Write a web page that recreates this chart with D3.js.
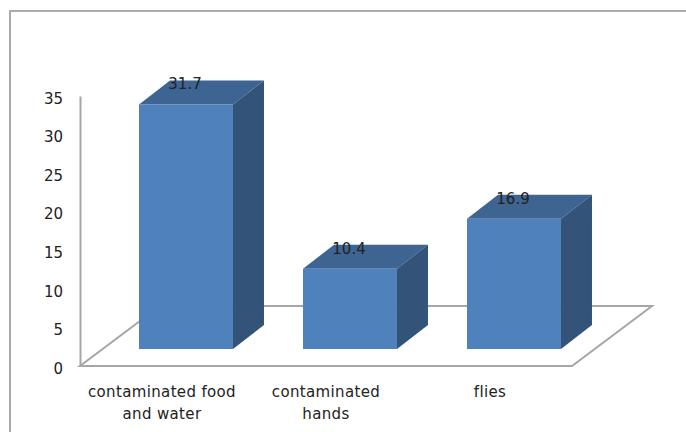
<!DOCTYPE html>
<html lang="en">
<head>
  <meta charset="UTF-8">
  <title>Transmission routes</title>
  <script src="https://d3js.org/d3.v7.min.js"></script>
  <style>
    body { margin: 0; background: #fff; }
    svg { display: block; }
    text { font-family: "DejaVu Sans", sans-serif; fill: #222; }
    .axis text { font-size: 15px; font-family: "DejaVu Sans", sans-serif; }
    .axis .domain { stroke: #a6a6a6; stroke-width: 2px; }
    .axis line { display: none; }
  </style>
</head>
<body>
  <div id="chart"></div>
  <script>
    const categories = [["contaminated food", "and water"], ["contaminated", "hands"], ["flies"]];
    const values = [31.7, 10.4, 16.9];
    const yTicks = [0, 5, 10, 15, 20, 25, 30, 35];

    const width = 686, height = 432;
    const svg = d3.select("#chart").append("svg").attr("width", width).attr("height", height);

    // picture frame, runs off the right and bottom edges
    svg.append("path")
      .attr("d", "M10,432V11H686")
      .attr("fill", "none").attr("stroke", "#aaa").attr("stroke-width", 2);

    const x = d3.scaleBand().domain(d3.range(values.length)).range([80, 572]);
    const y = d3.scaleLinear().domain([0, 35]).range([366, 96]);

    // 3d offsets
    const floorDx = 80, floorDy = -60;
    const barInsetX = 24, barInsetY = -17;
    const depthX = 31, depthY = -24;
    const barW = x.bandwidth() * 0.573;

    svg.append("polygon")
      .attr("points", [[80, y(0)], [572, y(0)], [572 + floorDx, y(0) + floorDy], [80 + floorDx, y(0) + floorDy]].join(" "))
      .attr("fill", "#fff").attr("stroke", "#a6a6a6").attr("stroke-width", 2);

    const yAxis = svg.append("g").attr("class", "axis")
      .attr("transform", "translate(80,0)")
      .call(d3.axisLeft(y).tickValues(yTicks).tickSize(0).tickSizeOuter(0).tickPadding(17));
    yAxis.selectAll("text").attr("dy", "0.48em");

    const bars = svg.selectAll(".bar").data(values).enter().append("g").attr("class", "bar")
      .attr("transform", (d, i) => `translate(${x(i) + x.bandwidth() / 2 + barInsetX - barW / 2},0)`);

    bars.append("polygon")
      .attr("fill", "#3e6491")
      .attr("points", d => {
        const t = y(d) + barInsetY;
        return [[0, t], [barW, t], [barW + depthX, t + depthY], [depthX, t + depthY]].join(" ");
      });
    bars.append("polygon")
      .attr("fill", "#335378")
      .attr("points", d => {
        const t = y(d) + barInsetY, b = y(0) + barInsetY;
        return [[barW, t], [barW + depthX, t + depthY], [barW + depthX, b + depthY], [barW, b]].join(" ");
      });
    bars.append("rect")
      .attr("fill", "#4f81bd")
      .attr("width", barW)
      .attr("y", d => y(d) + barInsetY)
      .attr("height", d => y(0) - y(d));
    bars.append("text")
      .attr("x", barW / 2 - 1)
      .attr("y", d => y(d) + barInsetY - 15)
      .attr("text-anchor", "middle")
      .style("font-size", "15px")
      .text(d => d);

    // category labels sit under the front edge of the floor
    const labels = svg.selectAll(".cat").data(categories).enter().append("text")
      .attr("class", "cat")
      .attr("text-anchor", "middle")
      .style("font-size", "15px")
      .style("letter-spacing", "0.35px")
      .attr("transform", (d, i) => `translate(${x(i) + x.bandwidth() / 2},397)`);
    labels.selectAll("tspan").data(d => d).enter().append("tspan")
      .attr("x", 0)
      .attr("dy", (d, i) => i ? 22 : 0)
      .text(d => d);
  </script>
</body>
</html>
